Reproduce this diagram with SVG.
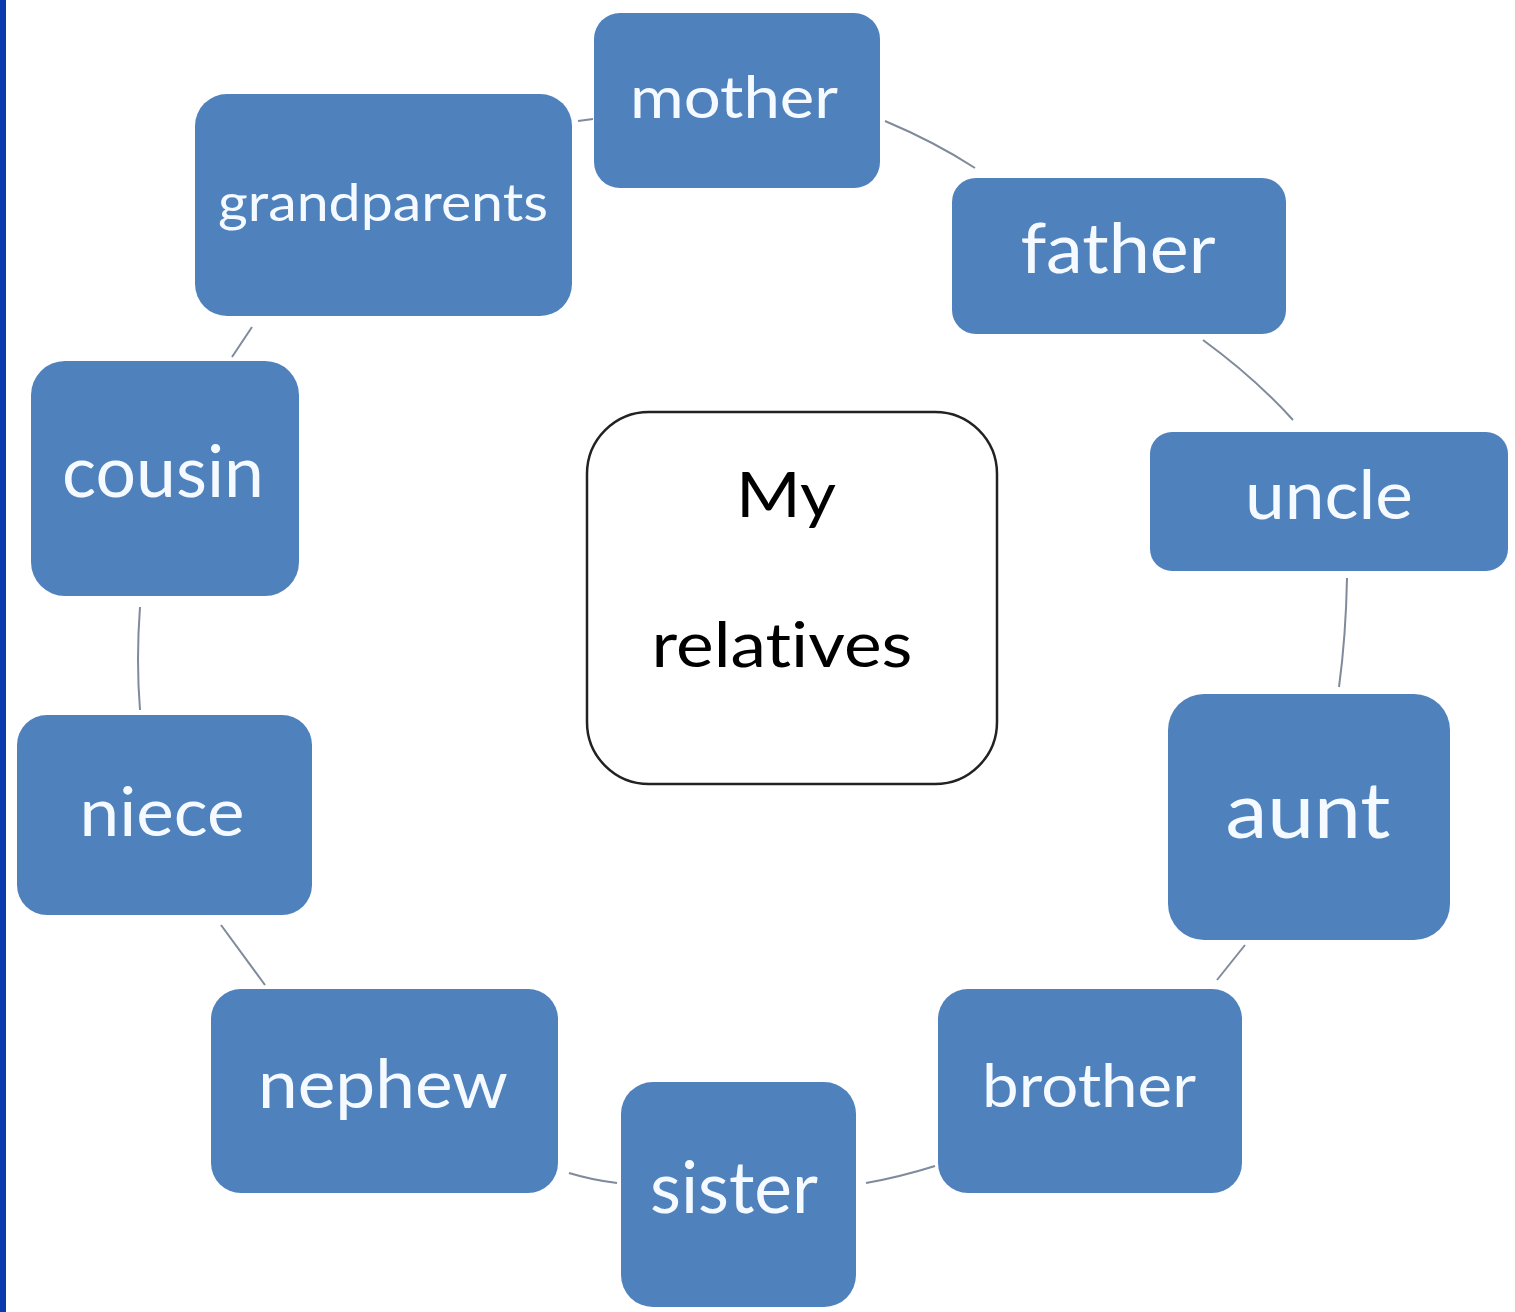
<svg xmlns="http://www.w3.org/2000/svg" width="1515" height="1312" viewBox="0 0 1515 1312">
<style>
.box{fill:#4F81BD;}
.lbl{fill:#F4FAFF;font-family:Lato,"Open Sans","Liberation Sans",sans-serif;text-anchor:middle;font-variant-ligatures:none;}
.ctr{fill:#000;font-family:Lato,"Open Sans","Liberation Sans",sans-serif;text-anchor:middle;font-variant-ligatures:none;}
.conn{fill:none;stroke:#7F8A9C;stroke-width:2;}
</style>
<rect x="0" y="0" width="1515" height="1312" fill="#FFFFFF"/>
<rect x="0" y="0" width="6" height="1312" fill="#0B3AAE"/>
<g id="connectors">
<path class="conn" d="M578,121 L593,119"/>
<path class="conn" d="M885,121 Q935,142 975,168"/>
<path class="conn" d="M1203,340 Q1255,378 1293,420"/>
<path class="conn" d="M1347,578 Q1346,635 1339,687"/>
<path class="conn" d="M1245,945 L1217,980"/>
<path class="conn" d="M935,1166 Q900,1177 866,1183"/>
<path class="conn" d="M617,1183 Q592,1180 569,1173"/>
<path class="conn" d="M265,985 L221,925"/>
<path class="conn" d="M140,607 Q136,660 140,710"/>
<path class="conn" d="M232,357 L252,327"/>
</g>
<g id="node-center">
<rect x="587" y="412" width="410" height="372" rx="62" fill="#FFFFFF" stroke="#222222" stroke-width="2.5"/>
<text class="ctr" x="786" y="517" font-size="62" textLength="100" lengthAdjust="spacingAndGlyphs">My</text>
<text class="ctr" x="782" y="667" font-size="62" textLength="261" lengthAdjust="spacingAndGlyphs">relatives</text>
</g>
<g id="node-mother">
<rect class="box" x="594" y="13" width="286" height="175" rx="26"/>
<text class="lbl" x="734" y="118" font-size="58" textLength="208" lengthAdjust="spacingAndGlyphs">mother</text>
</g>
<g id="node-grandparents">
<rect class="box" x="195" y="94" width="377" height="222" rx="32"/>
<text class="lbl" x="383" y="221" font-size="52" textLength="330" lengthAdjust="spacingAndGlyphs">grandparents</text>
</g>
<g id="node-father">
<rect class="box" x="952" y="178" width="334" height="156" rx="24"/>
<text class="lbl" x="1118" y="273" font-size="70" textLength="195" lengthAdjust="spacingAndGlyphs">father</text>
</g>
<g id="node-uncle">
<rect class="box" x="1150" y="432" width="358" height="139" rx="22"/>
<text class="lbl" x="1329" y="519" font-size="68" textLength="168" lengthAdjust="spacingAndGlyphs">uncle</text>
</g>
<g id="node-aunt">
<rect class="box" x="1168" y="694" width="282" height="246" rx="36"/>
<text class="lbl" x="1308" y="838" font-size="78" textLength="165" lengthAdjust="spacingAndGlyphs">aunt</text>
</g>
<g id="node-brother">
<rect class="box" x="938" y="989" width="304" height="204" rx="30"/>
<text class="lbl" x="1089" y="1107" font-size="60" textLength="214" lengthAdjust="spacingAndGlyphs">brother</text>
</g>
<g id="node-sister">
<rect class="box" x="621" y="1082" width="235" height="225" rx="32"/>
<text class="lbl" x="734" y="1213" font-size="72" textLength="168" lengthAdjust="spacingAndGlyphs">sister</text>
</g>
<g id="node-nephew">
<rect class="box" x="211" y="989" width="347" height="204" rx="30"/>
<text class="lbl" x="383" y="1108" font-size="68" textLength="250" lengthAdjust="spacingAndGlyphs">nephew</text>
</g>
<g id="node-niece">
<rect class="box" x="17" y="715" width="295" height="200" rx="30"/>
<text class="lbl" x="162" y="836" font-size="68" textLength="165" lengthAdjust="spacingAndGlyphs">niece</text>
</g>
<g id="node-cousin">
<rect class="box" x="31" y="361" width="268" height="235" rx="34"/>
<text class="lbl" x="163" y="497" font-size="72" textLength="202" lengthAdjust="spacingAndGlyphs">cousin</text>
</g>
</svg>
